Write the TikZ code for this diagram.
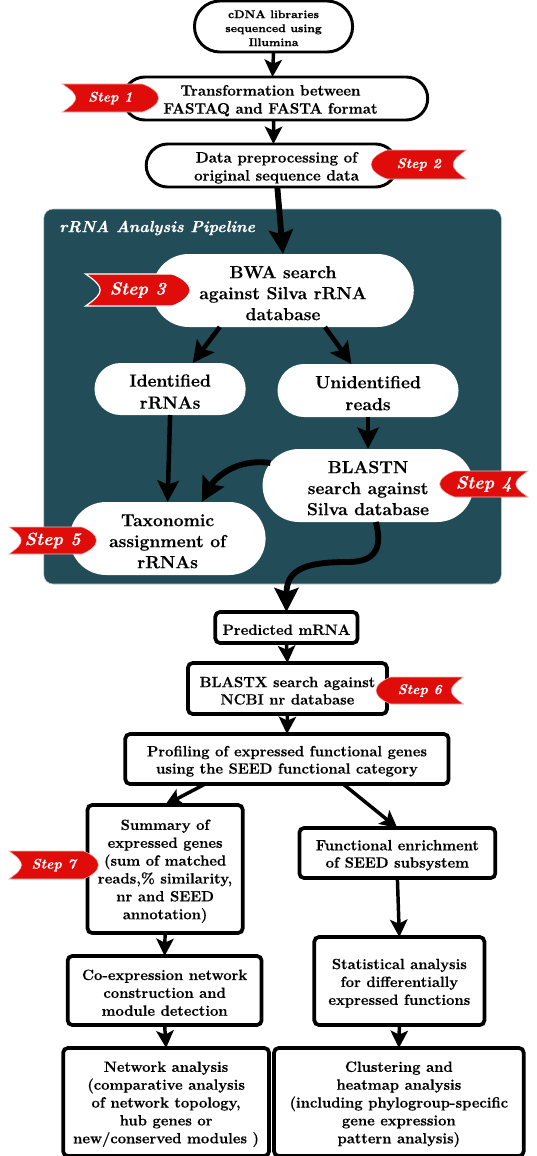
\documentclass[tikz,border=0pt]{standalone}
\usepackage{xcolor}
\usepackage{fontspec}
\setmainfont{Latin Modern Roman}[BoldFeatures={FakeBold=0.5},BoldItalicFeatures={FakeBold=0.5}]
\usepackage{tikz}
\usetikzlibrary{arrows.meta,calc,shapes.misc}
\definecolor{panelblue}{HTML}{224C58}
\definecolor{stepred}{HTML}{DF0C0A}
\newcommand{\topgap}{\rule{0pt}{1em}}
\tikzset{
  fs/.style 2 args = {font=\fontsize{#1}{#2}\selectfont\bfseries},
  pillbox/.style 2 args = {rounded rectangle, fill=white, inner sep=0pt, outer sep=0pt, align=center,
    minimum width=#1*0.746pt, minimum height=#2*0.75pt},
  linedpill/.style = {draw=black, line width=2.2pt},
  rectbox/.style 2 args = {rectangle, draw=black, fill=white, line width=2.8pt, rounded corners=3.5pt,
    inner sep=0pt, outer sep=0pt, align=center, minimum width=#1*0.746pt, minimum height=#2*0.75pt},
  flowarrow/.style 2 args = {line width=#1, -{Stealth[length=#2,width=#2,inset=3pt]}},
  thinarrow/.style = {flowarrow={2.6pt}{13pt}},
  midarrow/.style = {flowarrow={3.4pt}{16pt}},
  bigarrow/.style = {flowarrow={4.4pt}{18pt}},
  flagline/.style = {draw=white!70!stepred, line width=0.4pt},
  pics/stepflag/.style n args = {4}{
    code = {
      \fill[stepred, flagline, xscale=#1, yscale=#2]
        (-0.5,-0.5) .. controls (-0.40,-0.28) and (-0.36,-0.14) .. (-0.36,0)
        .. controls (-0.36,0.14) and (-0.40,0.28) .. (-0.5,0.5)
        -- (0.33,0.5) .. controls (0.42,0.40) and (0.5,0.2) .. (0.5,0)
        .. controls (0.5,-0.2) and (0.42,-0.40) .. (0.33,-0.5) -- cycle;
      \node[text=white, font=\fontsize{#3}{#3}\selectfont\bfseries\itshape, inner sep=0pt] (-label) at (0,0) {#4};
    }
  }
}

\begin{document}
\begin{tikzpicture}[x=0.746pt,y=-0.75pt]

  \useasboundingbox (0,0) rectangle (538.9,1156);

  % rRNA panel
  \node[rectangle, fill=panelblue, draw=white!70!panelblue, line width=0.4pt, rounded corners=7pt,
    minimum width=460*0.746pt, minimum height=375*0.75pt, inner sep=0pt] (panel) at (274,396.5) {};
  \node[text=white, font=\fontsize{12}{14}\selectfont\bfseries\itshape, inner sep=0pt] (paneltitle) at (158,228) {rRNA Analysis Pipeline};

  % top pills
  \node[pillbox={159}{51}, linedpill, fs={8.4}{10.5}] (cdna) at (275,26.5) {\topgap cDNA libraries\\sequenced using\\Illumina};
  \node[pillbox={306}{43}, linedpill, fs={11.3}{13.5}] (trans) at (277,98.5) {\topgap Transformation between\hspace*{7.5pt}\\FASTAQ and FASTA format\hspace*{7.5pt}};
  \node[pillbox={252}{43}, linedpill, fs={11.3}{13.5}] (prep) at (273,165.5) {\topgap\hspace*{7.5pt}Data preprocessing of\\\hspace*{7.5pt}original sequence data};

  % inside the panel
  \node[pillbox={263}{73}, fs={13.1}{15.75}] (bwa) at (284.5,290.5) {\topgap BWA search\\against Silva rRNA\\database};
  \node[pillbox={152}{52}, fs={13.1}{16.5}] (ident) at (171,389) {\topgap Identified\\rRNAs};
  \node[pillbox={182}{53}, fs={13.1}{16.5}] (unident) at (370,390.5) {\topgap Unidentified\\reads};
  \node[pillbox={212}{73}, fs={13.1}{15.75}] (blastn) at (370,485.5) {\topgap BLASTN\\search against\\Silva database};
  \node[pillbox={197}{73}, fs={13.1}{15.75}] (taxo) at (168.5,538.5) {\topgap Taxonomic\\assignment of\\rRNAs};

  % boxes below the panel
  \node[rectbox={143}{31}, fs={11.1}{13}] (pred) at (288,627.5) {\topgap Predicted mRNA};
  \node[rectbox={200}{51}, fs={11.1}{13}] (blastx) at (289,688.5) {\topgap BLASTX search against\\NCBI nr database};
  \node[rectbox={325}{50}, fs={11.1}{13}] (profil) at (288.5,759) {\topgap Profiling of expressed functional genes\\using the SEED functional category};
  \node[rectbox={156}{128}, fs={11.1}{13.4}] (summ) at (166,869) {\topgap Summary of\\expressed genes\\(sum of matched\\reads,\% similarity,\\nr and SEED\\annotation)};
  \node[rectbox={197}{50}, fs={11.1}{13}] (func) at (399.5,853) {\topgap Functional enrichment\\of SEED subsystem};
  \node[rectbox={171}{88}, fs={11.1}{13.4}] (stat) at (401.5,981) {\topgap Statistical analysis\\for differentially\\expressed functions};
  \node[rectbox={195}{69}, fs={11.1}{13.4}] (coexp) at (165.5,990.5) {\topgap Co-expression network\\construction and\\module detection};
  \node[rectbox={207}{108}, fs={11.1}{13.4}] (netw) at (167,1102) {\topgap Network analysis\\(comparative analysis\\of network topology,\\hub genes or\\new/conserved modules )};
  \node[rectbox={251}{108}, fs={11.1}{13.4}] (clust) at (401,1102) {\topgap Clustering and\\heatmap analysis\\(including phylogroup-specific\\gene expression\\pattern analysis)};

  % connectors
  \foreach \a/\b in {cdna.south/trans.98, trans.265/prep.85, pred.south/blastx.north,
    blastx.south/profil.north, summ.south/coexp.north, coexp.south/netw.north, stat.south/clust.north,
    profil.197/summ.north, profil.336/func.north, func.south/stat.north}{
    \draw[thinarrow] (\a) -- (\b);
  }
  \draw[bigarrow] (prep.285) -- (bwa.north);
  \draw[midarrow] (bwa.210) -- (ident.49);
  \draw[midarrow] (bwa.319) -- (unident.122);
  \draw[midarrow] (ident.south) -- (taxo.north);
  \draw[midarrow] (unident.south) -- (blastn.north);
  \draw[bigarrow] (blastn.167) .. controls (235,458) and (215,480) .. (taxo.47);
  \draw[bigarrow] (blastn.282) .. controls (384,545) and (380,562) .. (350,562)
    .. controls (310,562) and (288,568) .. (pred.north);

  % step flags
  \pic (stepone) at (111,98) {stepflag={97}{28}{10.5}{Step 1}};
  \pic[xscale=-1] (steptwo) at (421,164.5) {stepflag={96}{29}{10.5}{Step 2}};
  \pic[flagline/.style={draw=white, line width=0.9pt}] (stepthree) at (138.5,290) {stepflag={105}{32}{13.3}{Step 3}};
  \pic[xscale=-1] (stepfour) at (486.5,484) {stepflag={89}{26}{13.3}{Step 4}};
  \pic (stepfive) at (53,540.5) {stepflag={88}{27}{13.3}{Step 5}};
  \pic[xscale=-1] (stepsix) at (422,690.5) {stepflag={88}{27}{10.5}{Step 6}};
  \pic (stepseven) at (54,865) {stepflag={90}{28}{10.5}{Step 7}};

\end{tikzpicture}
\end{document}
